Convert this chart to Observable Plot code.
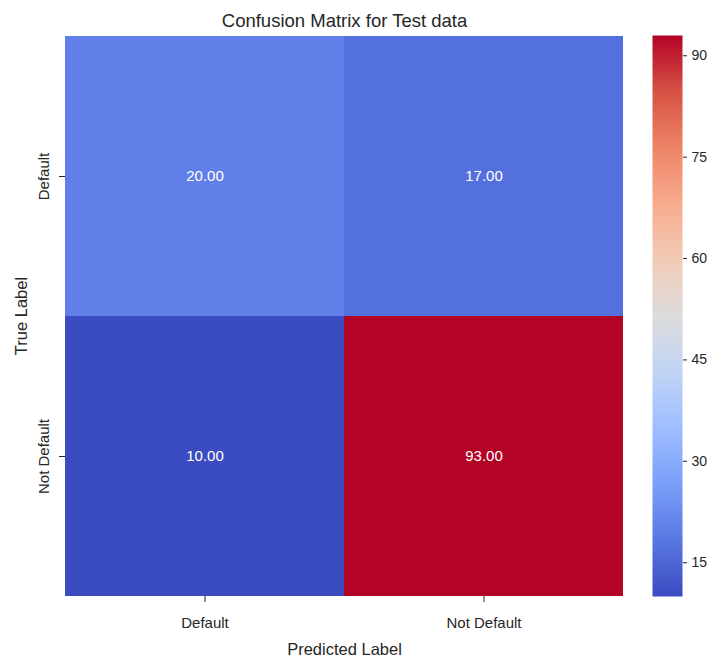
<!DOCTYPE html>
<html>
<head>
<meta charset="utf-8">
<script src="https://cdn.jsdelivr.net/npm/d3@7"></script>
<script src="https://cdn.jsdelivr.net/npm/@observablehq/plot@0.6"></script>
<style>
  html, body { margin: 0; padding: 0; background: #fff; }
  #wrap { position: relative; width: 711px; height: 662px; font-family: "Liberation Sans", Arial, sans-serif; }
  #wrap svg { position: absolute; top: 0; }
</style>
</head>
<body>
<div id="wrap"></div>
<script>
const title = "Confusion Matrix for Test data";
const trueLabels = ["Default", "Not Default"];
const predLabels = ["Default", "Not Default"];
const counts = [
  [20, 17],
  [10, 93]
];
const colorTicks = [15, 30, 45, 60, 75, 90];
const colorDomain = [10, 93];
const coolwarm = ["#3b4cc0", "#5977e3", "#7b9ff9", "#9ebeff", "#c0d4f5", "#dddcdc", "#f2cbb7", "#f7ac8e", "#ee8468", "#d65244", "#b40426"];

const cells = [];
trueLabels.forEach((t, i) => predLabels.forEach((p, j) => cells.push({t, p, v: counts[i][j]})));

const interp = d3.piecewise(d3.interpolateRgb, coolwarm);
const textColor = "#262626";

const heat = Plot.plot({
  width: 640, height: 662,
  marginLeft: 65, marginRight: 17, marginTop: 35, marginBottom: 66,
  style: {fontFamily: "Liberation Sans, Arial, sans-serif", fontSize: "15px", color: textColor, background: "transparent"},
  x: {domain: predLabels, padding: 0},
  y: {domain: trueLabels, padding: 0},
  color: {type: "linear", domain: colorDomain, interpolate: t => interp(t)},
  marks: [
    Plot.cell(cells, {x: "p", y: "t", fill: "v"}),
    Plot.text(cells, {x: "p", y: "t", text: d => d.v.toFixed(2), fill: "white", fontSize: 15}),
    Plot.axisX({tickSize: 6, tickPadding: 15, fontSize: 15, label: "Predicted Label", labelAnchor: "center", labelArrow: "none", labelOffset: 58}),
    Plot.axisY({tickSize: 6, tickPadding: 11, tickRotate: -90, fontSize: 15, label: "True Label", labelAnchor: "center", labelArrow: "none", labelOffset: 50}),
    Plot.text([title], {frameAnchor: "top", dy: -22, fontSize: 18.5, fill: textColor})
  ]
});
heat.style.left = "0px";
heat.querySelectorAll("[aria-label='x-axis label'] text, [aria-label='y-axis label'] text").forEach(t => t.setAttribute("font-size", 16.5));
document.getElementById("wrap").appendChild(heat);

const bar = Plot.plot({
  width: 71, height: 662,
  marginLeft: 12, marginRight: 29, marginTop: 35, marginBottom: 66,
  style: {fontFamily: "Liberation Sans, Arial, sans-serif", fontSize: "14px", color: textColor, background: "transparent"},
  x: {domain: [0, 1], axis: null},
  y: {domain: colorDomain, axis: null},
  color: {type: "linear", domain: colorDomain, interpolate: t => interp(t)},
  marks: [
    Plot.raster({x1: 0, x2: 1, y1: colorDomain[0], y2: colorDomain[1], fill: (x, y) => y, pixelSize: 1}),
    Plot.axisY({anchor: "right", ticks: colorTicks, tickSize: 4, tickPadding: 5, fontSize: 14, label: null})
  ]
});
bar.style.left = "640px";
document.getElementById("wrap").appendChild(bar);
</script>
</body>
</html>
